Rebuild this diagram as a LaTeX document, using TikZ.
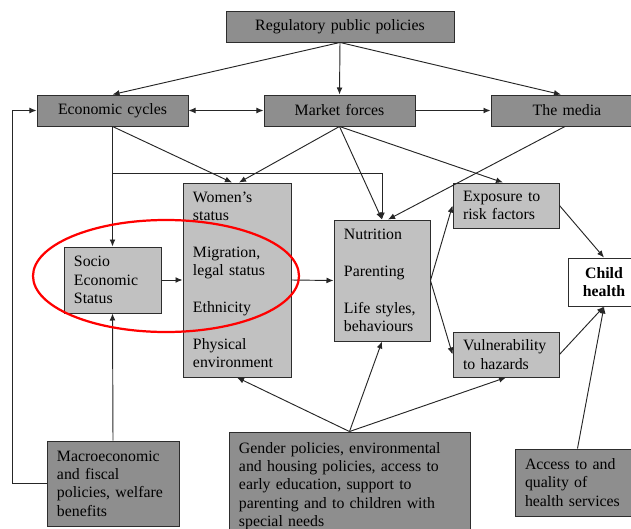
\documentclass[tikz,border=0pt]{standalone}
\usepackage{fontspec}
\setmainfont{Liberation Serif}
\usetikzlibrary{arrows.meta}
\definecolor{boxdark}{RGB}{142,142,142}
\definecolor{boxlight}{RGB}{193,193,193}
\definecolor{edge}{RGB}{45,45,45}

\begin{document}
\begin{tikzpicture}[x=0.03cm, y=-0.03cm, >={Latex[length=6pt,width=5pt]},
  every node/.style={font=\fontsize{13.5}{15.7}\selectfont, inner xsep=0.3cm, inner ysep=0pt},
  darkbox/.style={draw=edge, line width=0.8pt, fill=boxdark, align=left},
  lightbox/.style={draw=edge, line width=0.8pt, fill=boxlight, align=left},
  link/.style={->, line width=0.8pt, draw=black!85}]
\useasboundingbox (0,0) rectangle (631,529);

\draw
(340,26.5) node[darkbox, align=center, text width=6.24cm, minimum height=0.93cm](reg){Regulatory public policies}
(112.5,110.5) node[darkbox, align=center, text width=3.93cm, minimum height=0.93cm](econ){Economic cycles}
(339.5,110.5) node[darkbox, align=center, text width=3.93cm, minimum height=0.93cm](market){Market forces}
(567,110.5) node[darkbox, align=center, text width=3.96cm, minimum height=0.93cm](media){The media}
(112.5,280) node[lightbox, text width=2.31cm, minimum height=1.98cm](ses){Socio\\Economic\\Status}
(237,280) node[lightbox, text width=2.64cm, minimum height=5.82cm](women){Women’s\\status\\[15.7pt]Migration,\\legal status\\[15.7pt]Ethnicity\\[15.7pt]Physical\\environment}
(382,280.5) node[lightbox, text width=2.28cm, minimum height=3.63cm](nutr){Nutrition\\[15.7pt]Parenting\\[15.7pt]Life styles,\\behaviours}
(506,205.5) node[lightbox, text width=2.58cm, minimum height=1.35cm](expo){Exposure to\\risk factors}
(506,354.5) node[lightbox, text width=2.58cm, minimum height=1.35cm](vuln){Vulnerability\\to hazards}
(604,282) node[draw=edge, line width=0.8pt, fill=white, align=center, text width=1.56cm, minimum height=1.44cm, font=\fontsize{13.5}{15.7}\selectfont\bfseries](child){Child\\health}
(113,483.5) node[darkbox, text width=3.36cm, minimum height=2.55cm](macro){Macroeconomic\\and fiscal\\policies, welfare\\benefits}
(349.5,486) node[darkbox, text width=6.63cm, minimum height=3.24cm](gender){Gender policies, environmental\\and housing policies, access to\\early education, support to\\parenting and to children with\\special needs}
(577.5,482.5) node[darkbox, text width=3.15cm, minimum height=2.01cm](access){Access to and\\quality of\\health services};

\coordinate (branch) at (112.5,173);

\draw[link] (reg.south) -- (econ.north);
\draw[link] (reg.south) -- (market.north);
\draw[link] (reg.south) -- ([xshift=-0.18cm]media.north);
\draw[link, <->] (econ.east) -- (market.west);
\draw[link] (market.east) -- (media.west);
\draw[link] (macro.west) -- ++(-34,0) |- (econ.west);
\draw[link] (macro.north) -- (ses.south);
\draw[link] (econ.south) -- (ses.north);
\draw[link] (branch) -| (nutr.north);
\draw[link] (econ.south) -- ([xshift=-0.15cm]women.north);
\draw[link] (market.south) -- ([xshift=0.06cm]women.north);
\draw[link] (market.south) -- (nutr.north);
\draw[link] (market.south) -- ([xshift=-0.09cm]expo.north);
\draw[link] ([xshift=-0.06cm]media.south) -- ([xshift=0.18cm]nutr.north);
\draw[link] (ses.east) -- (women.west);
\draw[link] (women.east) -- (nutr.west);
\draw[link] (nutr.east) -- (expo.west);
\draw[link] (nutr.east) -- (vuln.west);
\draw[link] (expo.east) -- (child.north);
\draw[link] (vuln.east) -- (child.south);
\draw[link] (access.north) -- (child.south);
\draw[link] (gender.north) -- (women.south);
\draw[link] (gender.north) -- (nutr.south);
\draw[link] (gender.north) -- (vuln.south);

\draw[red, line width=1.9pt] (166,276) ellipse [x radius=3.99cm, y radius=1.68cm];
\end{tikzpicture}
\end{document}
